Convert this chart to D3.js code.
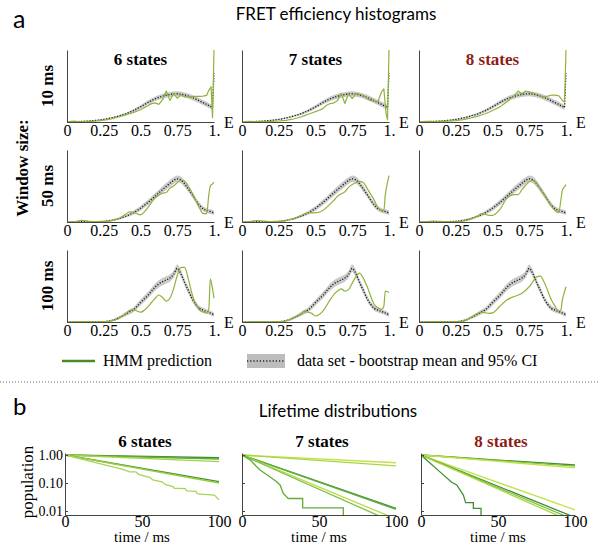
<!DOCTYPE html>
<html><head><meta charset="utf-8">
<script src="https://cdn.jsdelivr.net/npm/d3@7"></script>
<style>
body{margin:0;background:#fff;}
svg{display:block;}
.serif{font-family:"Liberation Serif","Times New Roman",Times,serif;}
.sans{font-family:Lato,"Open Sans",sans-serif;}
</style></head><body>
<svg id="fig" width="600" height="548"></svg>
<script>
// ---------- a: FRET efficiency histograms ----------
// 10 ms window: fine bins
const binsFine = [0,0.025,0.05,0.075,0.1,0.125,0.15,0.175,0.2,0.225,0.25,0.275,0.3,0.325,0.35,0.375,0.4,0.425,0.45,0.475,0.5,0.525,0.55,0.575,0.6,0.625,0.65,0.675,0.7,0.725,0.75,0.775,0.8,0.825,0.85,0.875,0.9,0.925,0.95,0.965,0.98,0.99,1];
const meanW10 = [0,0.002,0.004,0.006,0.008,0.011,0.014,0.018,0.023,0.029,0.036,0.045,0.056,0.068,0.082,0.097,0.114,0.134,0.157,0.183,0.21,0.24,0.27,0.298,0.322,0.342,0.358,0.372,0.383,0.39,0.392,0.386,0.375,0.36,0.342,0.32,0.295,0.27,0.245,0.228,0.212,0.2,0.68];
const ciW10 = [0.003,0.003,0.004,0.004,0.005,0.005,0.006,0.006,0.007,0.008,0.009,0.01,0.011,0.012,0.013,0.015,0.016,0.018,0.02,0.022,0.024,0.026,0.028,0.03,0.032,0.033,0.034,0.035,0.035,0.035,0.035,0.035,0.035,0.035,0.035,0.035,0.035,0.035,0.035,0.035,0.035,0.035,0.04];
const hmmW10s6 = [0,0.008,0.012,0.006,0.004,0.005,0.007,0.01,0.014,0.018,0.024,0.032,0.042,0.055,0.07,0.085,0.1,0.115,0.13,0.15,0.17,0.2,0.225,0.255,0.265,0.245,0.31,0.43,0.3,0.4,0.33,0.38,0.35,0.35,0.352,0.355,0.355,0.36,0.37,0.44,0.49,0.06,1.0];
const hmmW10s7 = [0,0.006,0.01,0.006,0.004,0.004,0.005,0.006,0.008,0.011,0.014,0.018,0.023,0.032,0.042,0.055,0.07,0.088,0.107,0.125,0.144,0.163,0.186,0.233,0.256,0.265,0.3,0.395,0.256,0.395,0.326,0.395,0.386,0.372,0.326,0.3,0.29,0.285,0.42,0.46,0.12,0.03,1.0];
const hmmW10s8 = [0,0.006,0.01,0.008,0.006,0.006,0.008,0.01,0.013,0.016,0.02,0.026,0.034,0.044,0.055,0.068,0.082,0.097,0.115,0.135,0.16,0.185,0.21,0.245,0.28,0.33,0.37,0.43,0.385,0.43,0.415,0.4,0.385,0.365,0.345,0.36,0.372,0.372,0.365,0.33,0.29,0.28,1.0];

// 50 ms and 100 ms windows: smoother bins
const binsSmooth = [0,0.05,0.1,0.15,0.2,0.25,0.3,0.35,0.4,0.425,0.45,0.475,0.5,0.55,0.6,0.625,0.65,0.675,0.7,0.725,0.75,0.775,0.8,0.825,0.85,0.9,0.925,0.95,0.965,0.975,0.99,1];
const meanW50 = [0,0.002,0.004,0.005,0.006,0.01,0.023,0.045,0.08,0.102,0.127,0.157,0.19,0.27,0.36,0.405,0.45,0.494,0.536,0.575,0.6,0.585,0.53,0.46,0.386,0.235,0.185,0.16,0.15,0.145,0.135,0.127];
const ciW50 = [0.003,0.003,0.003,0.003,0.004,0.006,0.009,0.013,0.018,0.022,0.026,0.03,0.033,0.038,0.042,0.044,0.045,0.046,0.046,0.046,0.046,0.046,0.045,0.043,0.04,0.035,0.033,0.032,0.032,0.032,0.032,0.032];
const hmmW50s6 = [0,0.005,0.022,0.01,0.004,0.004,0.015,0.045,0.11,0.142,0.136,0.115,0.1,0.2,0.34,0.375,0.4,0.41,0.47,0.5,0.545,0.58,0.57,0.5,0.41,0.2,0.12,0.115,0.38,0.5,0.53,0.555];
const hmmW50s7 = [0,0.004,0.02,0.012,0.005,0.004,0.02,0.045,0.09,0.115,0.128,0.128,0.128,0.16,0.25,0.3,0.36,0.39,0.42,0.48,0.52,0.545,0.565,0.55,0.47,0.3,0.2,0.165,0.16,0.38,0.55,0.645];
const hmmW50s8 = [0,0.004,0.014,0.008,0.003,0.003,0.012,0.037,0.083,0.115,0.11,0.092,0.092,0.174,0.335,0.37,0.38,0.38,0.45,0.51,0.56,0.578,0.54,0.46,0.38,0.22,0.16,0.13,0.3,0.44,0.49,0.52];

const meanW100 = [0,0.001,0.002,0.002,0.003,0.005,0.018,0.055,0.11,0.14,0.168,0.215,0.27,0.37,0.486,0.53,0.56,0.585,0.61,0.66,0.745,0.67,0.55,0.44,0.33,0.19,0.165,0.145,0.135,0.125,0.11,0.1];
const ciW100 = [0.002,0.002,0.002,0.002,0.003,0.006,0.012,0.02,0.028,0.032,0.035,0.038,0.04,0.045,0.05,0.05,0.05,0.05,0.05,0.05,0.052,0.05,0.048,0.045,0.04,0.035,0.032,0.03,0.03,0.03,0.03,0.03];
const hmmW100s6 = [0,0.002,0.005,0.004,0.003,0.004,0.015,0.045,0.12,0.158,0.168,0.155,0.136,0.21,0.33,0.375,0.34,0.29,0.33,0.46,0.645,0.76,0.76,0.6,0.395,0.168,0.14,0.123,0.19,0.6,0.46,0.33];
const hmmW100s7 = [0,0.002,0.005,0.004,0.003,0.004,0.014,0.06,0.105,0.15,0.135,0.12,0.083,0.15,0.31,0.38,0.43,0.46,0.43,0.45,0.54,0.63,0.68,0.61,0.5,0.243,0.2,0.174,0.22,0.43,0.42,0.41];
const hmmW100s8 = [0,0.002,0.005,0.004,0.003,0.004,0.01,0.06,0.12,0.136,0.13,0.12,0.127,0.218,0.31,0.335,0.355,0.375,0.4,0.44,0.49,0.56,0.627,0.636,0.56,0.31,0.22,0.15,0.17,0.3,0.42,0.49];

const modelNames = ["6 states","7 states","8 states"];
const windowNames = ["10 ms","50 ms","100 ms"];
const eTicks = [0,0.25,0.5,0.75,1];
const eTickLabels = ["0","0.25","0.5","0.75","1."];

// ---------- b: lifetime distributions ([time ms, population]) ----------
const life6 = [
  [[0,1],[100,0.80]],
  [[0,1],[100,0.72]],
  [[0,1],[100,0.58]],
  [[0,1],[100,0.112]],
  [[0,1],[100,0.100]],
  [[0,1],[37,0.316],[42,0.25],[46,0.25],[48,0.2],[55,0.16],[57,0.13],[63,0.11],[65,0.09],[70,0.075],[71,0.065],[78,0.063],[79,0.052],[85,0.05],[86,0.041],[97,0.037],[100,0.025]]
];
const life7 = [
  [[0,1],[100,0.53]],
  [[0,1],[100,0.41]],
  [[0,1],[100,0.0125]],
  [[0,1],[100,0.0115]],
  [[0,1],[100,0.0052]],
  [[0,1],[100,0.0036]],
  [[0,1],[5.3,0.66],[11.7,0.29],[18,0.168],[22.5,0.111],[24.7,0.085],[26.8,0.043],[30,0.028],[39.4,0.028],[39.4,0.013],[65.8,0.013],[65.8,0.001]]
];
const life8 = [
  [[0,1],[100,0.44]],
  [[0,1],[100,0.40]],
  [[0,1],[100,0.35]],
  [[0,1],[100,0.011]],
  [[0,1],[100,0.0059]],
  [[0,1],[100,0.0047]],
  [[0,1],[100,0.0037]],
  [[0,1],[12.3,0.25],[19.9,0.106],[23.2,0.085],[27.5,0.037],[29,0.02],[34,0.02],[34,0.0125],[39,0.0125],[39,0.001]]
];
const lifeSets = [life6, life7, life8];
const timeTicks = [0,50,100];
const popTicks = [1,0.1,0.01];
const popTickLabels = ["1.00","0.10","0.01"];

// ---------- styling ----------
const hmmColor = "#8fb33a";
const bandColor = "#c9c9c9";
const titleRed = "#8e1b14";
const lifeColors = [
  ["#3f8f32","#5fae3a","#a6d245","#3f8f32","#9acb40","#a8d45a"],
  ["#c2e24a","#a9d63e","#3f8f32","#5fae3a","#b9dc48","#7fbf3f","#5fae3a"],
  ["#3f8f32","#7fbf3f","#c2e24a","#c2e24a","#3f8f32","#7fbf3f","#a9d63e","#3f8f32"]
];

const svg = d3.select("#fig");
function txt(parent, cls, size, bold) {
  const t = parent.append("text").attr("class", cls).style("font-size", size + "px");
  if (bold) t.style("font-weight", "bold");
  return t;
}

// ---------- panel a ----------
txt(svg,"sans",25).attr("x",13).attr("y",28).text("a");
txt(svg,"sans",17).attr("x",336).attr("y",20).attr("text-anchor","middle").text("FRET efficiency histograms");

const histCols = [67,242,419];
const histW = 147;
const histTops = [50,150,250];
const histH = 72;

const rows = [
  {bins:binsFine, mean:meanW10, ci:ciW10, hmm:[hmmW10s6,hmmW10s7,hmmW10s8], curve:d3.curveLinear},
  {bins:binsSmooth, mean:meanW50, ci:ciW50, hmm:[hmmW50s6,hmmW50s7,hmmW50s8], curve:d3.curveMonotoneX},
  {bins:binsSmooth, mean:meanW100, ci:ciW100, hmm:[hmmW100s6,hmmW100s7,hmmW100s8], curve:d3.curveMonotoneX}
];

rows.forEach((row, r) => {
  const top = histTops[r];
  row.hmm.forEach((hmm, c) => {
    const x0 = histCols[c];
    const x = d3.scaleLinear().domain([0,1]).range([x0, x0+histW]);
    const y = d3.scaleLinear().domain([0,1]).range([top+histH, top]);
    const g = svg.append("g");

    const band = d3.area()
      .x((d,i) => x(row.bins[i]))
      .y0((d,i) => y(Math.max(0, d - row.ci[i])))
      .y1((d,i) => y(d + row.ci[i]))
      .curve(row.curve);
    g.append("path").datum(row.mean).attr("d", band).attr("fill", bandColor);

    const line = d3.line().x((d,i) => x(row.bins[i])).y(d => y(d)).curve(row.curve);
    g.append("path").datum(row.mean).attr("d", line).attr("fill","none")
      .attr("stroke","#1a1a1a").attr("stroke-width",1.3).attr("stroke-dasharray","1.2,1.6");
    g.append("path").datum(hmm).attr("d", line).attr("fill","none")
      .attr("stroke", hmmColor).attr("stroke-width",1.2).attr("stroke-linejoin","round");

    const xa = g.append("g").attr("transform",`translate(0,${top+histH})`)
      .call(d3.axisBottom(x).tickValues(eTicks).tickFormat((d,i)=>eTickLabels[i])
        .tickSizeInner(0).tickSizeOuter(0).tickPadding(3));
    const ya = g.append("g").attr("transform",`translate(${x0},0)`)
      .call(d3.axisLeft(y).tickValues([]).tickSizeOuter(0));
    [xa, ya].forEach(a => {
      a.attr("font-family", null).attr("font-size", null);
      a.select(".domain").attr("stroke","#444").attr("stroke-width",1);
      a.selectAll("text").attr("class","serif").style("font-size","16px").attr("fill","#000");
    });
    txt(g,"serif",16).attr("x", x0+histW+10).attr("y", top+histH+6).text("E");

    if (r === 0) {
      txt(svg,"serif",17,true).attr("x", x0+histW/2).attr("y", 65).attr("text-anchor","middle")
        .attr("fill", c === 2 ? titleRed : "#000").text(modelNames[c]);
    }
  });
  txt(svg,"serif",17,true).attr("transform",`translate(53,${top+histH/2})rotate(-90)`)
    .attr("text-anchor","middle").text(windowNames[r]);
});
txt(svg,"serif",17,true).attr("transform","translate(28,168)rotate(-90)")
  .attr("text-anchor","middle").text("Window size:");

// legend
svg.append("line").attr("x1",62).attr("x2",95).attr("y1",361).attr("y2",361)
  .attr("stroke","#4a8a2a").attr("stroke-width",2.5);
txt(svg,"serif",16).attr("x",103).attr("y",366).text("HMM prediction");
svg.append("rect").attr("x",247).attr("y",354).attr("width",38).attr("height",14).attr("fill","#bdbdbd");
svg.append("line").attr("x1",247).attr("x2",285).attr("y1",361).attr("y2",361)
  .attr("stroke","#222").attr("stroke-width",1.3).attr("stroke-dasharray","1.2,2");
txt(svg,"serif",16).attr("x",297).attr("y",366).text("data set - bootstrap mean and 95% CI");

// separator
svg.append("line").attr("x1",0).attr("x2",600).attr("y1",382).attr("y2",382)
  .attr("stroke","#666").attr("stroke-width",1).attr("stroke-dasharray","1,2");

// ---------- panel b ----------
txt(svg,"sans",24).attr("x",13).attr("y",415).text("b");
txt(svg,"sans",17).attr("x",338).attr("y",417).attr("text-anchor","middle").text("Lifetime distributions");

const lifeCols = [65,242,421];
const lifeW = 154;
const lifeTop = 453, lifeBottom = 515;

lifeSets.forEach((set, c) => {
  const x0 = lifeCols[c];
  const x = d3.scaleLinear().domain([0,100]).range([x0, x0+lifeW]);
  const y = d3.scaleLog().domain([0.0072,1.18]).range([lifeBottom, lifeTop]);
  const g = svg.append("g");
  const clipId = "clip" + c;
  g.append("clipPath").attr("id", clipId).append("rect")
    .attr("x", x0).attr("y", lifeTop-2).attr("width", lifeW+2).attr("height", lifeBottom-lifeTop+2);
  const line = d3.line().x(d => x(d[0])).y(d => y(d[1]));
  const lg = g.append("g").attr("clip-path",`url(#${clipId})`);
  set.forEach((pts, i) => {
    lg.append("path").datum(pts).attr("d", line).attr("fill","none")
      .attr("stroke", lifeColors[c][i]).attr("stroke-width",1.3);
  });

  const xa = g.append("g").attr("transform",`translate(0,${lifeBottom})`)
    .call(d3.axisBottom(x).tickValues(timeTicks).tickFormat(d3.format("d"))
      .tickSizeInner(0).tickSizeOuter(0).tickPadding(1));
  const ya = g.append("g").attr("transform",`translate(${x0},0)`)
    .call(d3.axisLeft(y).tickValues(popTicks)
      .tickFormat((d,i) => c === 0 ? popTickLabels[i] : "")
      .tickSizeInner(-3).tickSizeOuter(0).tickPadding(2));
  [xa, ya].forEach(a => {
    a.attr("font-family", null).attr("font-size", null);
    a.select(".domain").attr("stroke","#444").attr("stroke-width",1);
    a.selectAll(".tick line").attr("stroke","#444");
    a.selectAll("text").attr("class","serif").style("font-size","16px").attr("fill","#000");
  });
  ya.selectAll("text").style("font-size","14px");

  txt(svg,"serif",15).attr("x", x0+lifeW/2).attr("y",542).attr("text-anchor","middle").text("time / ms");
  txt(svg,"serif",17,true).attr("x", x0+lifeW/2+3).attr("y",447).attr("text-anchor","middle")
    .attr("fill", c === 2 ? titleRed : "#000").text(modelNames[c]);
});
txt(svg,"serif",17).attr("transform","translate(33,482)rotate(-90)")
  .attr("text-anchor","middle").text("population");
</script>
</body></html>
